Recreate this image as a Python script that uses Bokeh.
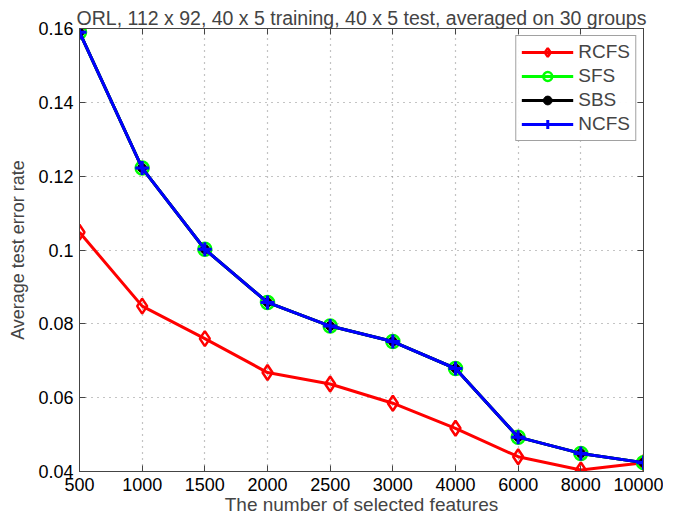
from bokeh.plotting import figure
from bokeh.models import FixedTicker, LinearAxis, Range1d, Legend, LegendItem
from bokeh.embed import file_html
from bokeh.resources import INLINE

features = ["500", "1000", "1500", "2000", "2500", "3000", "4000", "6000", "8000", "10000"]
rcfs = [0.1048, 0.0848, 0.0760, 0.0668, 0.0637, 0.0585, 0.0517, 0.0440, 0.0404, 0.0424]
sfs = [0.1590, 0.1222, 0.1002, 0.0858, 0.0794, 0.0752, 0.0679, 0.0493, 0.0449, 0.0424]
sbs = [0.1590, 0.1222, 0.1002, 0.0858, 0.0794, 0.0752, 0.0679, 0.0493, 0.0449, 0.0424]
ncfs = [0.1590, 0.1222, 0.1002, 0.0858, 0.0794, 0.0752, 0.0679, 0.0493, 0.0449, 0.0424]
y_ticks = [0.04, 0.06, 0.08, 0.1, 0.12, 0.14, 0.16]
y_labels = ["0.04", "0.06", "0.08", "0.1", "0.12", "0.14", "0.16"]

xs = list(range(len(features)))
FONT = "Liberation Sans"
AX = "#444444"

p = figure(frame_width=564, frame_height=443, output_backend="svg", toolbar_location=None,
           x_range=Range1d(0, len(features) - 1), y_range=Range1d(0.04, 0.16),
           min_border_left=79, min_border_right=20, min_border_top=28, min_border_bottom=20)

p.title.text = "ORL, 112 x 92, 40 x 5 training, 40 x 5 test, averaged on 30 groups"
p.title.align = "center"
p.title.text_font = FONT
p.title.text_font_size = "19.5px"
p.title.text_font_style = "normal"
p.title.standoff = 0

p.outline_line_color = AX
p.outline_line_width = 1

for ax in (p.xaxis[0], p.yaxis[0]):
    ax.major_tick_in = 6
    ax.major_tick_out = 0
    ax.minor_tick_in = 0
    ax.minor_tick_out = 0
    ax.axis_line_color = AX
    ax.major_tick_line_color = AX
    ax.major_label_text_font = FONT
    ax.major_label_text_font_size = "18px"
    ax.major_label_text_color = "black"
    ax.axis_label_text_font = FONT
    ax.axis_label_text_font_style = "normal"

p.xaxis[0].ticker = FixedTicker(ticks=xs)
p.xaxis[0].major_label_overrides = {i: f for i, f in enumerate(features)}
p.xaxis[0].major_label_standoff = 6
p.xaxis[0].axis_label = "The number of selected features"
p.xaxis[0].axis_label_text_font_size = "19px"
p.xaxis[0].axis_label_standoff = 0
p.yaxis[0].ticker = FixedTicker(ticks=y_ticks)
p.yaxis[0].major_label_overrides = {t: l for t, l in zip(y_ticks, y_labels)}
p.yaxis[0].major_label_standoff = 6
p.yaxis[0].axis_label = "Average test error rate"
p.yaxis[0].axis_label_text_font_size = "18px"
p.yaxis[0].axis_label_standoff = 7

top = LinearAxis(ticker=FixedTicker(ticks=xs),
                 major_label_overrides={i: "" for i in xs},
                 major_tick_in=6, major_tick_out=0, minor_tick_in=0, minor_tick_out=0,
                 major_label_standoff=0,
                 axis_line_color=AX, major_tick_line_color=AX)
right = LinearAxis(ticker=FixedTicker(ticks=y_ticks),
                   major_label_overrides={t: "" for t in y_ticks},
                   major_tick_in=6, major_tick_out=0, minor_tick_in=0, minor_tick_out=0,
                   major_label_standoff=0,
                   axis_line_color=AX, major_tick_line_color=AX)
p.add_layout(top, "above")
p.add_layout(right, "right")

p.xgrid.ticker = FixedTicker(ticks=xs)
p.ygrid.ticker = FixedTicker(ticks=y_ticks)
for g in (p.xgrid[0], p.ygrid[0]):
    g.grid_line_color = "#888888"
    g.grid_line_dash = "1 5"
    g.grid_line_width = 1.2

r1l = p.line(xs, rcfs, line_color="red", line_width=3)
r1m = p.scatter(xs, rcfs, marker="diamond", size=15, line_color="red", line_width=2.5, fill_color=None)
r2l = p.line(xs, sfs, line_color="#00ff00", line_width=3)
r2m = p.scatter(xs, sfs, marker="circle", size=13, line_color="#00ff00", line_width=2.5, fill_color=None)
r3l = p.line(xs, sbs, line_color="black", line_width=3)
r3m = p.scatter(xs, sbs, marker="circle", size=9, line_color="black", fill_color="black")
r4l = p.line(xs, ncfs, line_color="blue", line_width=3)
r4m = p.scatter(xs, ncfs, marker="cross", size=14, line_color="blue", line_width=3)

legend = Legend(items=[
    LegendItem(label="RCFS", renderers=[r1l, r1m]),
    LegendItem(label="SFS", renderers=[r2l, r2m]),
    LegendItem(label="SBS", renderers=[r3l, r3m]),
    LegendItem(label="NCFS", renderers=[r4l, r4m]),
], location="top_right")
legend.label_text_font = FONT
legend.label_text_font_size = "19px"
legend.border_line_color = AX
legend.border_line_width = 1
legend.glyph_width = 52
legend.glyph_height = 22
legend.spacing = 2
legend.padding = 5
legend.margin = 7
legend.label_standoff = 5
legend.label_height = 20
p.add_layout(legend, "center")

open("out.html", "w").write(file_html(p, INLINE))
